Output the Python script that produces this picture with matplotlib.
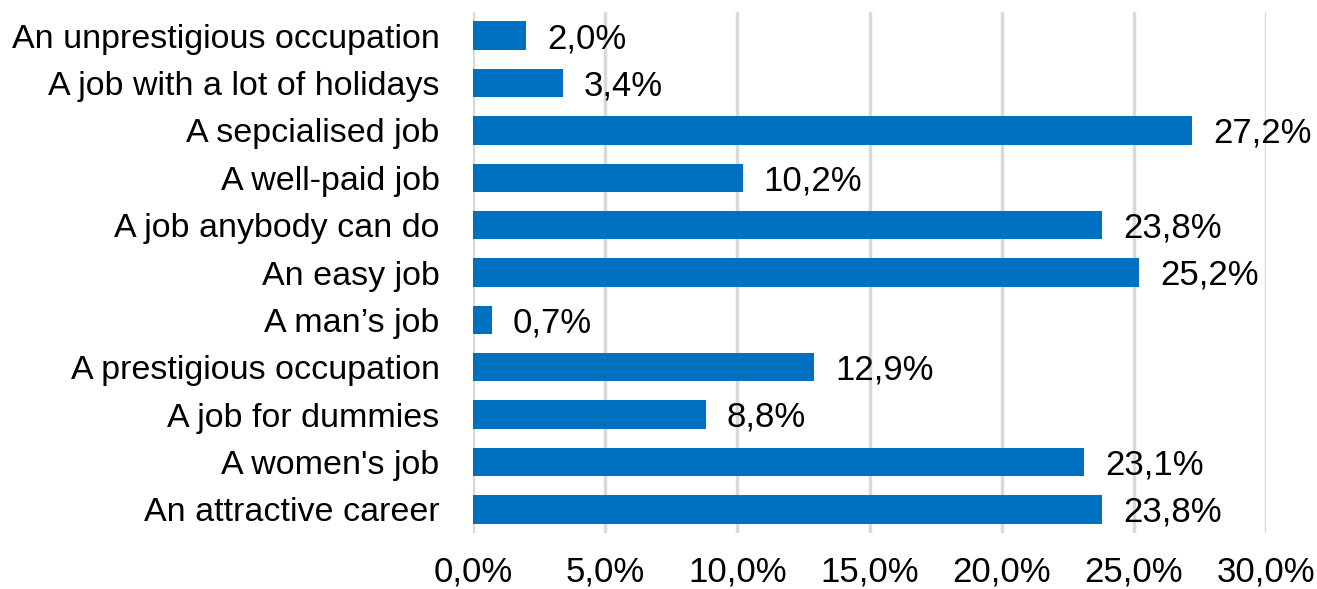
import matplotlib.pyplot as plt

plt.rcParams['font.family'] = ['Liberation Sans', 'DejaVu Sans']

# categories top to bottom
labels = ["An unprestigious occupation", "A job with a lot of holidays",
          "A sepcialised job", "A well-paid job", "A job anybody can do",
          "An easy job", "A man\u2019s job", "A prestigious occupation",
          "A job for dummies", "A women's job", "An attractive career"]
values = [2.0, 3.4, 27.2, 10.2, 23.8, 25.2, 0.7, 12.9, 8.8, 23.1, 23.8]
xticks = [0, 5, 10, 15, 20, 25, 30]

fig = plt.figure(figsize=(13.17, 5.89), dpi=100)
ax = fig.add_axes([473 / 1317, 56 / 589, (1266 - 473) / 1317, (533 - 12) / 589])

pos = list(range(len(labels)))[::-1]
ax.barh(pos, values, height=0.6, color='#0070C0', zorder=3)
for p, v in zip(pos, values):
    ax.text(v + 0.8, p - 0.06, f"{v:.1f}%".replace('.', ','), va='center',
            ha='left', fontsize=25, color='#000000')

ax.set_xlim(0, 30)
ax.set_ylim(-0.5, len(labels) - 0.5)
ax.set_yticks(pos)
ax.set_yticklabels(labels, fontsize=24.5)
ax.set_xticks(xticks)
ax.set_xticklabels([f"{t:.1f}%".replace('.', ',') for t in xticks], fontsize=25)
ax.tick_params(axis='both', length=0)
ax.tick_params(axis='y', pad=24)
ax.tick_params(axis='x', pad=16)
ax.grid(axis='x', color='#D9D9D9', linewidth=2.5, zorder=0)
for s in ax.spines.values():
    s.set_visible(False)

fig.savefig('out.png', dpi=100)
